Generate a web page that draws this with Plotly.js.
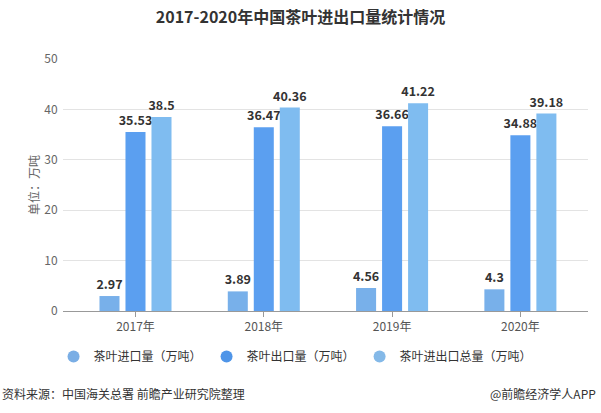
<!DOCTYPE html>
<html>
<head>
<meta charset="utf-8">
<script src="https://cdn.plot.ly/plotly-3.0.1.min.js"></script>
<style>html,body{margin:0;padding:0;background:#fff;}#chart{width:601px;height:413px;}</style>
</head>
<body>
<div id="chart"></div>
<script>
const years = ['2017年', '2018年', '2019年', '2020年'];
const importVals = [2.97, 3.89, 4.56, 4.3];
const exportVals = [35.53, 36.47, 36.66, 34.88];
const totalVals = [38.5, 40.36, 41.22, 39.18];
const seriesNames = ['茶叶进口量（万吨）', '茶叶出口量（万吨）', '茶叶进出口总量（万吨）'];
const seriesColors = ['#78b0ea', '#5b9ff0', '#7fbcf0'];
const legendColors = ['#7aaee5', '#4f95e8', '#84b9e8'];

const F = '"Noto Sans CJK SC", "Open Sans", sans-serif';
const vals = [importVals, exportVals, totalVals];

const traces = vals.map((v, i) => ({
  type: 'bar', x: years, y: v, name: seriesNames[i], showlegend: false,
  marker: {color: seriesColors[i]},
  text: v.map(String), texttemplate: '<b>%{text}</b>', textposition: 'outside',
  constraintext: 'none',
  textfont: {family: F, size: 12.5, color: '#333'}, cliponaxis: false,
  hoverinfo: 'skip'
}));
vals.forEach((v, i) => traces.push({
  type: 'scatter', mode: 'markers', x: [null], y: [null], name: seriesNames[i],
  marker: {color: legendColors[i], size: 12, symbol: 'circle'}, showlegend: true
}));

const layout = {
  width: 601, height: 413,
  margin: {l: 63, r: 13, t: 59, b: 102},
  paper_bgcolor: '#fff', plot_bgcolor: '#fff',
  font: {family: F, size: 12, color: '#555'},
  title: {text: '<b>2017-2020年中国茶叶进出口量统计情况</b>', x: 0.5, xanchor: 'center', y: 0.958, yanchor: 'middle',
    font: {family: F, size: 16, color: '#333'}},
  barmode: 'group', bargap: 0.392, bargroupgap: 0.23,
  xaxis: {type: 'category', range: [-0.565, 3.527], showline: true, linecolor: '#999', linewidth: 1,
    ticks: 'outside', ticklen: 5, tickcolor: '#999', showgrid: false,
    tickfont: {family: F, size: 12, color: '#555'}, fixedrange: true},
  yaxis: {range: [0, 50], dtick: 10, showgrid: true, gridcolor: '#e3e3e3', zeroline: false,
    ticks: 'outside', ticklen: 2, tickcolor: '#fff',
    tickfont: {family: F, size: 12, color: '#666'},
    title: {text: '单位：万吨', standoff: 2, font: {family: F, size: 12, color: '#666'}}, fixedrange: true},
  legend: {orientation: 'h', x: -0.018, xanchor: 'left', y: -0.123, yanchor: 'top',
    itemwidth: 30,
    font: {family: F, size: 12, color: '#333'}},
  annotations: [
    {text: '资料来源：中国海关总署 前瞻产业研究院整理', xref: 'paper', yref: 'paper', x: -63/525, y: -(393-311)/252,
      xanchor: 'left', yanchor: 'middle', showarrow: false, font: {family: F, size: 12, color: '#333'}},
    {text: '@前瞻经济学人APP', xref: 'paper', yref: 'paper', x: 1 + 10/525, y: -(393-311)/252,
      xanchor: 'right', yanchor: 'middle', showarrow: false, font: {family: F, size: 12, color: '#333'}}
  ]
};
Plotly.newPlot('chart', traces, layout, {displayModeBar: false, staticPlot: true});
</script>
</body>
</html>
